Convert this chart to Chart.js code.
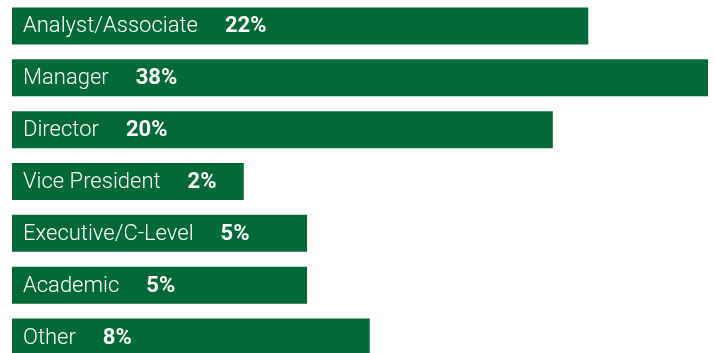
<!DOCTYPE html>
<html>
<head>
<meta charset="utf-8">
<script src="https://cdn.jsdelivr.net/npm/chart.js@4"></script>
<style>
  body { margin: 0; background: #fff; }
  #wrap { width: 714px; height: 353px; overflow: hidden; }
</style>
</head>
<body>
<div id="wrap">
  <canvas id="grafico" width="714" height="363"></canvas>
</div>
<script>
// Datos del gráfico
const categorias = ["Analyst/Associate", "Manager", "Director", "Vice President", "Executive/C-Level", "Academic", "Other"];
const porcentajes = [22, 38, 20, 2, 5, 5, 8];
// Largo de cada barra tal como se ve en la imagen (no es proporcional al %)
const largoBarras = [82.8, 100, 77.7, 33.3, 42.4, 42.4, 51.4];

const VERDE = "#036a37";

// Plugin para escribir la etiqueta y el % dentro de cada barra
const etiquetasPlugin = {
  id: "etiquetas",
  afterDatasetsDraw(chart) {
    const ctx = chart.ctx;
    const meta = chart.getDatasetMeta(0);
    ctx.save();
    ctx.fillStyle = "#ffffff";
    ctx.textBaseline = "middle";
    meta.data.forEach(function (bar, i) {
      const x = bar.base + 11;
      const y = bar.y + 1;
      ctx.font = "300 22px Roboto";
      ctx.fillText(categorias[i], x, y);
      const ancho = ctx.measureText(categorias[i]).width;
      ctx.font = "bold 22px Roboto";
      ctx.fillText(porcentajes[i] + "%", x + ancho + 27, y);
    });
    ctx.restore();
  },
};

new Chart(document.getElementById("grafico").getContext("2d"), {
  type: "bar",
  data: {
    labels: categorias,
    datasets: [
      {
        data: largoBarras,
        backgroundColor: VERDE,
        borderWidth: 0,
        categoryPercentage: 0.714,
        barPercentage: 1,
      },
    ],
  },
  options: {
    indexAxis: "y",
    responsive: false,
    animation: false,
    layout: { padding: { left: 12, right: 6, top: 0, bottom: 0 } },
    plugins: {
      legend: { display: false },
      tooltip: { enabled: false },
    },
    scales: {
      x: { display: false, min: 0, max: 100 },
      y: { display: false },
    },
  },
  plugins: [etiquetasPlugin],
});
</script>
</body>
</html>
